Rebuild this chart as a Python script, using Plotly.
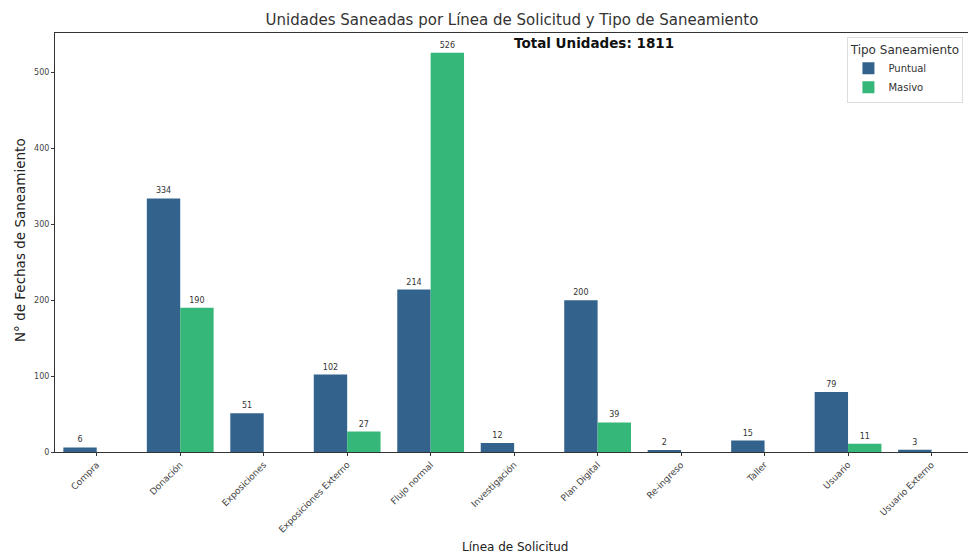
import plotly.graph_objects as go

categorias = ["Compra", "Donación", "Exposiciones", "Exposiciones Externo", "Flujo normal",
              "Investigación", "Plan Digital", "Re-ingreso", "Taller", "Usuario", "Usuario Externo"]
puntual = [6, 334, 51, 102, 214, 12, 200, 2, 15, 79, 3]
masivo = [None, 190, None, 27, 526, None, 39, None, None, 11, None]
total = sum(v for v in puntual if v) + sum(v for v in masivo if v)

col_puntual = "#33638d"
col_masivo = "#35b779"
font_fam = "DejaVu Sans"

fig = go.Figure()
for name, vals, col in [("Puntual", puntual, col_puntual), ("Masivo", masivo, col_masivo)]:
    fig.add_trace(go.Bar(
        x=categorias, y=vals, name=name, marker=dict(color=col, line=dict(width=0)),
        text=[str(v) if v is not None else "" for v in vals],
        textposition="outside", textfont=dict(size=8, color="#333333", family=font_fam),
        cliponaxis=False,
    ))

L, T, B = 55, 33, 103
fig.update_layout(
    width=968, height=555,
    margin=dict(l=L, r=0, t=T, b=B, autoexpand=False),
    barmode="group", bargap=0.2, bargroupgap=0,
    plot_bgcolor="white", paper_bgcolor="white",
    font=dict(family=font_fam, color="#333333"),
    title=dict(text="Unidades Saneadas por Línea de Solicitud y Tipo de Saneamiento",
               x=512/968, xanchor="center", y=1 - 20/555, yanchor="middle", yref="container",
               font=dict(size=15, color="#333333", family=font_fam)),
    legend=dict(
        title=dict(text="Tipo Saneamiento", side="top center", font=dict(size=12, color="#333333")),
        x=0.995, xanchor="right", y=0.99, yanchor="top",
        bgcolor="rgba(255,255,255,0.8)", bordercolor="#dddddd", borderwidth=1,
        font=dict(size=10, color="#333333"), itemwidth=30, tracegroupgap=0,
    ),
    showlegend=True,
)
fig.update_xaxes(
    type="category", range=[-0.5, 10.437],
    tickangle=-45, tickfont=dict(size=9, color="#444444"),
    showline=True, linecolor="#333333", linewidth=1, mirror=True,
    ticks="outside", ticklen=3, tickcolor="#333333", showgrid=False,
)
fig.update_yaxes(
    range=[0, 552], tickvals=[0, 100, 200, 300, 400, 500],
    tickfont=dict(size=8, color="#444444"),
    showline=True, linecolor="#333333", linewidth=1, mirror=True,
    ticks="outside", ticklen=3, tickcolor="#333333", showgrid=False, zeroline=False,
)

fig.add_annotation(text=f"<b>Total Unidades: {total}</b>", xref="paper", yref="paper",
                   x=0.5, y=0.975, xanchor="left", yanchor="middle", showarrow=False,
                   font=dict(size=13.5, color="#111111"))
fig.add_annotation(text="Línea de Solicitud", xref="paper", yref="paper",
                   x=(515 - L) / (968 - L), y=(452 - 547) / 419, xanchor="center", yanchor="middle",
                   showarrow=False, font=dict(size=12, color="#222222"))
fig.add_annotation(text="N° de Fechas de Saneamiento", xref="paper", yref="paper",
                   x=(20 - L) / (968 - L), y=(452 - 240) / 419, xanchor="center", yanchor="middle",
                   textangle=-90, showarrow=False, font=dict(size=13.5, color="#222222"))

fig.write_html("out.html", config={"displayModeBar": False},
               post_script="document.body.style.margin='0px';")
